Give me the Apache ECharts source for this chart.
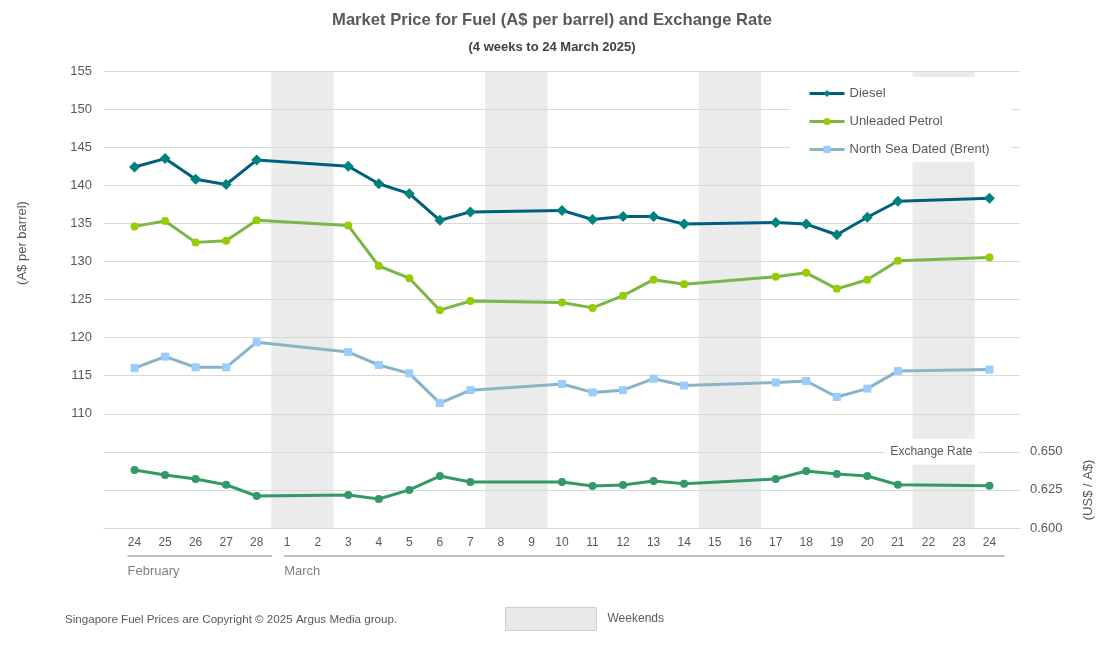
<!DOCTYPE html>
<html>
<head>
<meta charset="utf-8">
<script src="https://cdn.jsdelivr.net/npm/echarts@6/dist/echarts.min.js"></script>
<style>
html,body{margin:0;padding:0;background:#fff;}
#chart{width:1104px;height:647px;}
</style>
</head>
<body>
<div id="chart"></div>
<script>
// ---- data ----
var days = ['24','25','26','27','28','1','2','3','4','5','6','7','8','9','10','11','12','13','14','15','16','17','18','19','20','21','22','23','24'];
var weekend = [0,0,0,0,0,1,1,0,0,0,0,0,1,1,0,0,0,0,0,1,1,0,0,0,0,0,1,1,0];
var months = [{name:'February', first:0, last:4}, {name:'March', first:5, last:28}];
var diesel = [142.4,143.5,140.8,140.1,143.3,null,null,142.5,140.2,138.9,135.4,136.5,null,null,136.7,135.5,135.9,135.9,134.9,null,null,135.1,134.9,133.5,135.8,137.9,null,null,138.3];
var unleaded = [134.6,135.3,132.5,132.7,135.4,null,null,134.7,129.4,127.8,123.6,124.8,null,null,124.6,123.9,125.5,127.6,127.0,null,null,128.0,128.5,126.4,127.6,130.1,null,null,130.5];
var brent = [116.0,117.5,116.1,116.1,119.4,null,null,118.1,116.4,115.3,111.4,113.1,null,null,113.9,112.8,113.1,114.6,113.7,null,null,114.1,114.3,112.2,113.3,115.6,null,null,115.8];
var fxRate = [0.6381,0.6348,0.6322,0.6284,0.6210,null,null,0.6217,0.6190,0.6250,0.6341,0.6302,null,null,0.6302,0.6276,0.6282,0.6309,0.6291,null,null,0.6322,0.6374,0.6355,0.6341,0.6284,null,null,0.6278];
var priceTicks = [110,115,120,125,130,135,140,145,150,155];
var rateTicks = [0.600,0.625,0.650];

// ---- build ----
function pad(arr){ return [null].concat(arr, [null]); }
var cats = [''].concat(days, ['']);
var weekendData = pad(weekend.map(function(w){ return w ? 1 : '-'; }));
var FONT = '"Liberation Sans", Arial, sans-serif';
var TXT = '#595959';

var chart = echarts.init(document.getElementById('chart'));
var option = {
  backgroundColor: '#fff',
  animation: false,
  textStyle: { fontFamily: FONT },
  title: [
    { text: 'Market Price for Fuel (A$ per barrel) and Exchange Rate', left: 'center', top: 7,
      textStyle: { fontSize: 16.6, fontWeight: 'bold', color: TXT, fontFamily: FONT } },
    { text: '(4 weeks to 24 March 2025)', left: 'center', top: 36,
      textStyle: { fontSize: 13, fontWeight: 'bold', color: '#404040', fontFamily: FONT } }
  ],
  legend: [
    { orient: 'vertical', left: 790, top: 77, backgroundColor: '#fff', padding: [10, 22, 6, 18],
      itemWidth: 35, itemHeight: 9, itemGap: 15,
      textStyle: { fontSize: 13, color: TXT, fontFamily: FONT },
      data: [
        { name: 'Diesel', lineStyle: { width: 3 } },
        { name: 'Unleaded Petrol', lineStyle: { width: 3 } },
        { name: 'North Sea Dated (Brent)', lineStyle: { width: 3 } }
      ] },
    { left: 505, top: 607, itemWidth: 91, itemHeight: 23, padding: 0,
      textStyle: { fontSize: 12, color: TXT, fontFamily: FONT, padding: [0,0,0,6] },
      data: [{ name: 'Weekends', icon: 'rect', itemStyle: { color: '#e8e8e8', borderColor: '#d0d0d0', borderWidth: 1 } }] }
  ],
  grid: { left: 104, right: 84, top: 71, bottom: 119, containLabel: false },
  xAxis: {
    type: 'category', data: cats, boundaryGap: false,
    axisLine: { show: true, lineStyle: { color: '#d9d9d9' } },
    axisTick: { show: false },
    axisLabel: { interval: 0, color: TXT, fontSize: 12, margin: 9, fontFamily: FONT },
    splitLine: { show: false }
  },
  yAxis: [
    { type: 'value', min: 95, max: 155, interval: 5, position: 'left',
      axisLine: { show: false }, axisTick: { show: false },
      axisLabel: { color: TXT, fontSize: 13, margin: 12, fontFamily: FONT,
        formatter: function(v){ return priceTicks.indexOf(v) >= 0 ? String(v) : ''; } },
      splitLine: { show: true, lineStyle: { color: '#d9d9d9', width: 1 } } },
    { type: 'value', min: 0.6, max: 0.9, interval: 0.025, position: 'right',
      axisLine: { show: false }, axisTick: { show: false },
      axisLabel: { color: TXT, fontSize: 13, margin: 10, fontFamily: FONT,
        formatter: function(v){
          for (var i = 0; i < rateTicks.length; i++) { if (Math.abs(v - rateTicks[i]) < 1e-6) return rateTicks[i].toFixed(3); }
          return ''; } },
      splitLine: { show: false } },
    { type: 'value', min: 0, max: 1, show: false, splitLine: { show: false } }
  ],
  series: [
    { name: 'Weekends', type: 'bar', yAxisIndex: 2, data: weekendData, barWidth: '104%', silent: true, z: -1,
      itemStyle: { color: '#ebebeb' } },
    { name: 'Diesel', type: 'line', yAxisIndex: 0, data: pad(diesel), connectNulls: true,
      symbol: 'diamond', symbolSize: 11, lineStyle: { color: '#005f7f', width: 3 },
      itemStyle: { color: '#00827f' } },
    { name: 'Unleaded Petrol', type: 'line', yAxisIndex: 0, data: pad(unleaded), connectNulls: true,
      symbol: 'circle', symbolSize: 8, lineStyle: { color: '#7ab648', width: 3 },
      itemStyle: { color: '#99cc00' } },
    { name: 'North Sea Dated (Brent)', type: 'line', yAxisIndex: 0, data: pad(brent), connectNulls: true,
      symbol: 'rect', symbolSize: 8, lineStyle: { color: '#8ab4c6', width: 3 },
      itemStyle: { color: '#99ccff' } },
    { name: 'Exchange Rate', type: 'line', yAxisIndex: 1, data: pad(fxRate), connectNulls: true,
      symbol: 'circle', symbolSize: 8, lineStyle: { color: '#339966', width: 3 },
      itemStyle: { color: '#339966' } }
  ]
};
chart.setOption(option);

// ---- decorations computed from the axes ----
function px(i){ return chart.convertToPixel({ xAxisIndex: 0 }, i + 1); }
function py(v, idx){ return chart.convertToPixel({ yAxisIndex: idx }, v); }
var step = px(1) - px(0);
var elements = [];
months.forEach(function(m, k){
  var x0 = px(m.first) - (k === 0 ? 7 : 3);
  var x1 = px(m.last) + step / 2;
  elements.push({ type: 'line', shape: { x1: x0, y1: 556, x2: x1, y2: 556 }, style: { stroke: '#7f7f7f', lineWidth: 1 }, silent: true });
  elements.push({ type: 'text', x: x0, y: 571, style: { text: m.name, fill: '#7f7f7f', font: '13px ' + FONT, textAlign: 'left', textVerticalAlign: 'middle' }, silent: true });
});
var rateTopY = py(0.650, 1), rateBotY = py(0.600, 1);
elements.push({ type: 'text', x: 22, y: 243, rotation: Math.PI / 2,
  style: { text: '(A$ per barrel)', fill: TXT, font: '13px ' + FONT, textAlign: 'center', textVerticalAlign: 'middle' }, silent: true });
elements.push({ type: 'text', x: 1088, y: (rateTopY + rateBotY) / 2, rotation: Math.PI / 2,
  style: { text: '(US$ / A$)', fill: TXT, font: '13px ' + FONT, textAlign: 'center', textVerticalAlign: 'middle' }, silent: true });
elements.push({ type: 'text', x: (px(25) + px(27)) / 2 + 3, y: rateTopY, z: 100,
  style: { text: 'Exchange Rate', fill: TXT, font: '12px ' + FONT, textAlign: 'center', textVerticalAlign: 'middle',
    backgroundColor: '#fff', padding: [7, 6, 7, 6] }, silent: true });
elements.push({ type: 'text', x: 65, y: 620,
  style: { text: 'Singapore Fuel Prices are Copyright \u00A9 2025 Argus Media group.', fill: TXT, font: '11.6px ' + FONT, textAlign: 'left', textVerticalAlign: 'middle' }, silent: true });
chart.setOption({ graphic: { elements: elements } });
</script>
</body>
</html>
